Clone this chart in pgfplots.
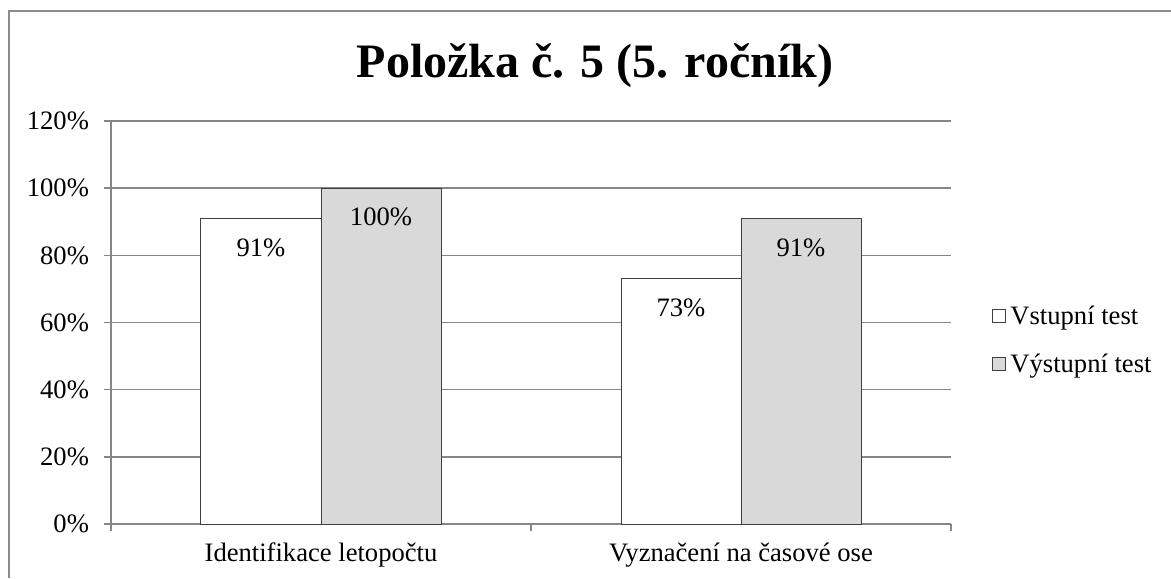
\documentclass[border=0pt]{standalone}
\usepackage{fontspec}
\setmainfont{Liberation Serif}
\usepackage{pgfplots}
\pgfplotsset{compat=1.18}
\definecolor{gridgray}{RGB}{134,134,134}
\definecolor{barfill}{RGB}{217,217,217}
\definecolor{framegray}{RGB}{140,140,140}

\begin{document}
\begin{tikzpicture}
  % picture is 1171 x 578 px, 1 px = 0.5pt
  \path[use as bounding box] (0,0) rectangle (585.5pt,-289pt);
  \draw[framegray, line width=1pt] (4.5pt,-289pt) -- (4.5pt,-5.5pt) -- (585.5pt,-5.5pt);
  \node[anchor=base, font=\fontsize{24}{28}\selectfont\bfseries] at (297.5pt,-38.5pt) {Položka č. 5 (5. ročník)};

  \begin{axis}[
      at={(55.5pt,-262pt)}, anchor=south west,
      scale only axis,
      width=420pt, height=201.5pt,
      ybar=0pt, bar width=60pt,
      xmin=-0.5, xmax=1.5,
      ymin=0, ymax=120,
      ytick={0,20,...,120},
      yticklabel={\pgfmathprintnumber[assume math mode=true]{\tick}\%},
      xtick={-0.5,0.5,1.5},
      xticklabels={},
      extra x ticks={0,1},
      extra x tick labels={Identifikace letopočtu, Vyznačení na časové ose},
      extra x tick style={major tick length=0pt, xticklabel style={yshift=-6pt}},
      axis x line*=bottom, axis y line*=left,
      axis line style={gridgray, line width=0.8pt},
      tick style={gridgray, line width=0.8pt},
      major tick length=3.5pt,
      tick align=outside,
      ymajorgrids,
      grid style={gridgray, line width=0.8pt},
      ticklabel style={font=\fontsize{13.3}{15}\selectfont},
      yticklabel style={xshift=-4pt},
      nodes near coords={\pgfmathprintnumber[assume math mode=true]{\pgfplotspointmeta}\%},
      every node near coord/.append style={anchor=center, yshift=-14.5pt, font=\fontsize{13.3}{15}\selectfont, black},
      legend style={draw=none, fill=none, at={(1,0.5)}, anchor=west, xshift=20.5pt, yshift=-9pt,
        font=\fontsize{13.3}{15}\selectfont, row sep=9pt, inner sep=0pt},
      legend cell align=left,
      legend image code/.code={\draw[#1, line width=0.5pt] (0pt,-3pt) rectangle (6.5pt,3.5pt);},
    ]
    \addplot[draw=black!75, fill=white, line width=0.5pt] coordinates {(0,91) (1,73)};
    \addplot[draw=black!75, fill=barfill, line width=0.5pt] coordinates {(0,100) (1,91)};
    \legend{Vstupní test, Výstupní test}
  \end{axis}
\end{tikzpicture}
\end{document}
